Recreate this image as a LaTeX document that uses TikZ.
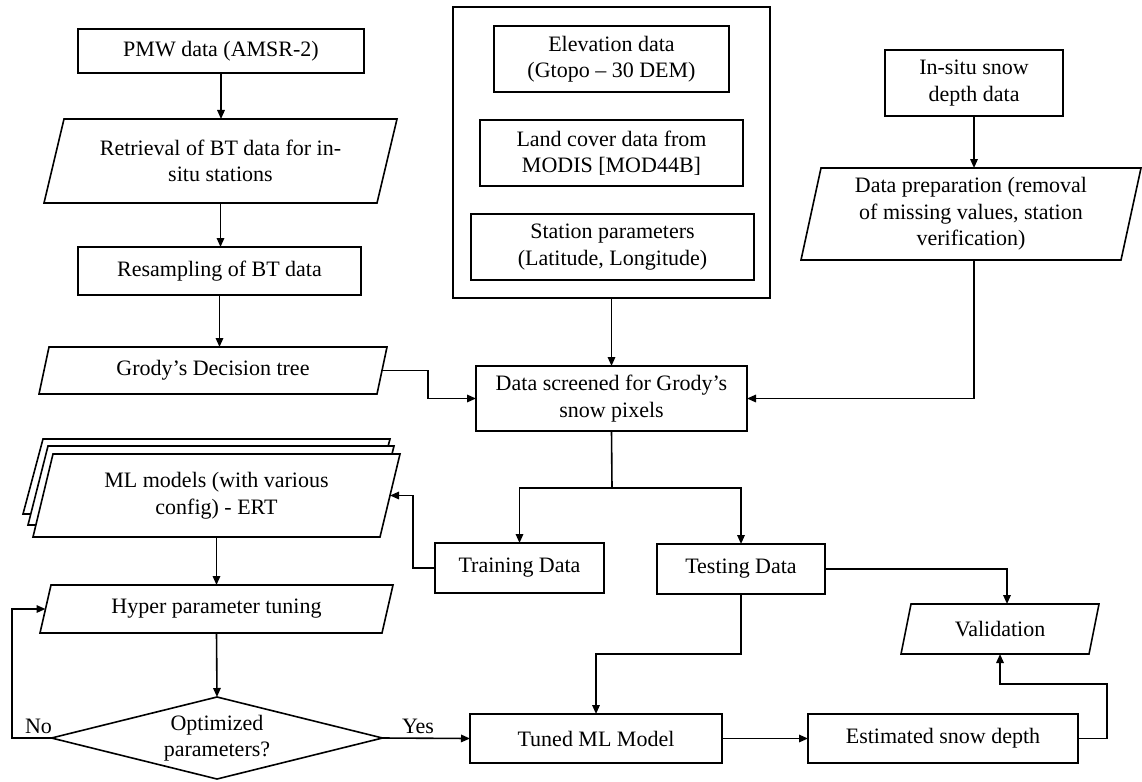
\documentclass[tikz,border=0pt]{standalone}
\usepackage{fontspec}
\setmainfont{Liberation Serif}
\usetikzlibrary{arrows.meta,calc,backgrounds}
\newcommand\drawpara[2]{\draw[ln] ([xshift=#2]#1.north west) -- (#1.north east) -- ([xshift=-#2]#1.south east) -- (#1.south west) -- cycle;}
\begin{document}
\begin{tikzpicture}[x=1pt,y=-1pt,
  every node/.style={font=\fontsize{22}{26.5}\selectfont, inner sep=0pt, outer sep=0pt, align=center},
  ln/.style={line width=1.6pt},
  box/.style={draw, line width=1.6pt, rectangle},
  plain/.style={rectangle},
  arr/.style={ln, -{Triangle[length=9pt,width=7.5pt]}},
  lbl/.style={anchor=base},
]
\useasboundingbox (0,0) rectangle (1142,781);

% left column
\node[box, minimum width=286, minimum height=44] (pmw) at (221,51) {PMW data (AMSR-2)};
\node[plain, minimum width=353, minimum height=84] (retr) at (220.5,161) {Retrieval of BT data for in-\\situ stations};
\drawpara{retr}{20pt}
\node[box, minimum width=283, minimum height=48] (resamp) at (219.5,271) {Resampling of BT data};
\node[plain, minimum width=348, minimum height=47] (grody) at (213,370.5) {Grody’s Decision tree};
\drawpara{grody}{10pt}

% middle group
\node[box, minimum width=317, minimum height=291] (outer) at (611.5,152.5) {};
\node[box, minimum width=235, minimum height=66] (elev) at (611.5,59) {Elevation data\\(Gtopo – 30 DEM)};
\node[box, minimum width=263, minimum height=66] (land) at (611.5,153) {Land cover data from\\MODIS [MOD44B]};
\node[box, minimum width=283, minimum height=66] (stat) at (612.5,247) {Station parameters\\(Latitude, Longitude)};
\node[box, minimum width=271, minimum height=65] (screen) at (611.5,398.5) {Data screened for Grody’s\\snow pixels};

% right group
\node[box, minimum width=178, minimum height=66] (insitu) at (974,83) {In-situ snow\\depth data};
\node[plain, minimum width=340, minimum height=92] (prep) at (971,214) {Data preparation (removal\\of missing values, station\\verification)};
\drawpara{prep}{20pt}

% ML stack
\node[plain, minimum width=367, minimum height=83] (ml) at (216.5,495.5) {ML models (with various\\config) - ERT};
\begin{pgfonlayer}{background}
\draw[ln, fill=white] (43,439) -- (390,439) -- (370,514) -- (23,514) -- cycle;
\draw[ln, fill=white] (48,446) -- (394,446) -- (374,525) -- (28,525) -- cycle;
\draw[ln, fill=white] ([xshift=20pt]ml.north west) -- (ml.north east) -- ([xshift=-20pt]ml.south east) -- (ml.south west) -- cycle;
\end{pgfonlayer}

\node[box, minimum width=169, minimum height=50] (train) at (519.5,568) {Training Data};
\node[box, minimum width=168, minimum height=50] (test) at (741,569) {Testing Data};
\node[plain, minimum width=198, minimum height=50] (valid) at (1000,629) {Validation};
\drawpara{valid}{10pt}
\node[plain, minimum width=353, minimum height=48] (hyper) at (216.5,609) {Hyper parameter tuning};
\drawpara{hyper}{11pt}
\node[plain, minimum width=331, minimum height=82] (dia) at (217,738) {Optimized\\parameters?};
\draw[ln] (dia.north) -- (dia.east) -- (dia.south) -- (dia.west) -- cycle;
\node[box, minimum width=252, minimum height=49] (tuned) at (596,738.5) {Tuned ML Model};
\node[box, minimum width=270, minimum height=49] (est) at (943,738.5) {Estimated snow depth};

\node[lbl] (no) at (38.5,733) {No};
\node[lbl] (yes) at (418,733) {Yes};

% connectors
\coordinate (g1) at (428,370.5);
\coordinate (split) at (612,488);
\coordinate (t1) at (413,568);
\coordinate (n1) at (12,738);
\coordinate (s1) at (596,654);
\coordinate (v1) at (1007,569);
\coordinate (e1) at (1107,684);

\draw[arr] (pmw.south) -- (pmw.south |- retr.north);
\draw[arr] (retr.south) -- (retr.south |- resamp.north);
\draw[arr] (resamp.south) -- (resamp.south |- grody.north);
\draw[arr] ([xshift=-5pt]grody.east) -- (g1) |- (screen.west);
\draw[arr] (outer.south) -- (screen.north);
\draw[arr] (insitu.south) -- (insitu.south |- prep.north);
\draw[arr] (insitu.south |- prep.south) |- (screen.east);
\draw[ln] (screen.south) -- (split);
\draw[arr] (split) -| (train.north);
\draw[arr] (split) -| (test.north);
\draw[arr] (train.west) -- (t1) |- ([xshift=-10pt]ml.east);
\draw[arr] (ml.south) -- (ml.south |- hyper.north);
\draw[arr] (hyper.south) -- (dia.north);
\draw[arr] (dia.west) -- (n1) |- ([xshift=5.5pt]hyper.west);
\draw[arr] (dia.east) -- (tuned.west);
\draw[arr] (test.south) -- (test.south |- s1) -- (s1) -- (tuned.north);
\draw[arr] (test.east) -- (v1) -- (v1 |- valid.north);
\draw[arr] (tuned.east) -- (est.west);
\draw[arr] (est.east) -| (e1) -| (valid.south);
\end{tikzpicture}
\end{document}
